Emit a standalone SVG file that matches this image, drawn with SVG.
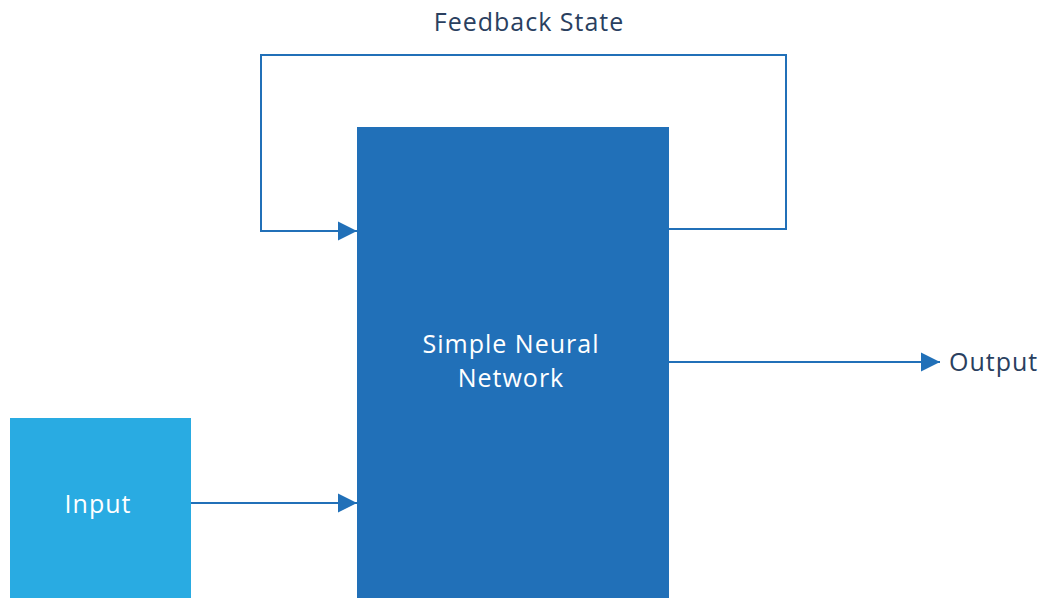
<svg xmlns="http://www.w3.org/2000/svg" width="1042" height="598" viewBox="0 0 1042 598">
<style>
.lbl{font-family:"Open Sans","Liberation Sans",sans-serif;font-size:25px;letter-spacing:1px}
.dark{fill:#2a3f5f}
.white{fill:#ffffff}
.conn{fill:none;stroke:#2170b8;stroke-width:2}
</style>
<defs>
<marker id="arr" viewBox="0 0 10 10" refX="10" refY="5" markerWidth="19" markerHeight="20" markerUnits="userSpaceOnUse" orient="auto">
<path d="M0,0 L10,5 L0,10 Z" fill="#2170b8"/>
</marker>
</defs>
<rect width="1042" height="598" fill="#ffffff"/>
<g id="connectors">
<polyline class="conn" points="669,229 786,229 786,55 261,55 261,231 357,231" marker-end="url(#arr)"/>
<line class="conn" x1="191" y1="503" x2="357" y2="503" marker-end="url(#arr)"/>
<line class="conn" x1="669" y1="362" x2="940" y2="362" marker-end="url(#arr)"/>
</g>
<g id="network">
<rect x="357" y="127" width="312" height="471" fill="#2170b8"/>
<text class="lbl white" x="511" y="353" text-anchor="middle">Simple Neural</text>
<text class="lbl white" x="511" y="387" text-anchor="middle">Network</text>
</g>
<g id="input">
<rect x="10" y="418" width="181" height="180" fill="#29abe2"/>
<text class="lbl white" x="98" y="513" text-anchor="middle">Input</text>
</g>
<g id="feedback-label">
<text class="lbl dark" x="529" y="31" text-anchor="middle">Feedback State</text>
</g>
<g id="output">
<text class="lbl dark" x="949" y="371">Output</text>
</g>
</svg>
